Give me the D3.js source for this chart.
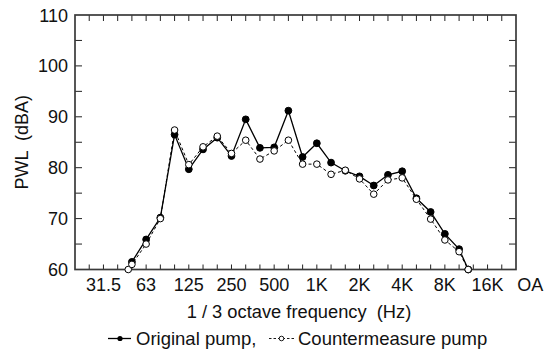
<!DOCTYPE html>
<html>
<head>
<meta charset="utf-8">
<script src="https://cdn.jsdelivr.net/npm/d3@7"></script>
<style>
  body { margin: 0; background: #fff; }
  svg { display: block; font-family: "Liberation Sans", Arial, sans-serif; }
</style>
</head>
<body>
<svg id="chart" width="550" height="349"></svg>
<script>
// 1/3 octave bands shown on the x axis (one tick per band)
const bands = ["20","25","31.5","40","50","63","80","100","125","160","200","250","315","400","500",
  "630","800","1K","1.25K","1.6K","2K","2.5K","3.15K","4K","5K","6.3K","8K","10K","12.5K","16K","20K"];
const tickLabels = ["31.5","63","125","250","500","1K","2K","4K","8K","16K","OA"];

// PWL in dBA per band (null = not plotted)
const originalPump = [null,null,null,null,61.5,65.9,70.2,86.5,79.7,83.6,85.9,82.3,89.5,83.9,84.0,
  91.2,82.1,84.8,81.0,79.4,78.3,76.5,78.6,79.3,74.0,71.3,67.0,64.0,57.8,null,null];
const countermeasurePump = [null,null,null,57.1,61.0,65.0,70.0,87.4,80.6,84.1,86.2,82.8,85.4,81.7,83.3,
  85.4,80.7,80.7,78.7,79.5,77.8,74.8,77.6,78.0,73.8,69.9,65.8,63.5,58.0,null,null];

const yMajor = [60,70,80,90,100,110];
const yMinor = [65,75,85,95,105];

const svg = d3.select("#chart");
const pLeft = 75, pRight = 516, pTop = 15, pBottom = 269.5;

const x = d3.scaleLinear().domain([0, bands.length]).range([pLeft, pRight]);
const y = d3.scaleLinear().domain([60, 110]).range([pBottom, pTop]);

const labelPos = name => name === "OA" ? bands.length + 1 : bands.indexOf(name);

svg.append("clipPath").attr("id", "plotclip")
  .append("rect").attr("x", pLeft).attr("y", pTop).attr("width", pRight - pLeft).attr("height", pBottom - pTop);

// ticks (all inward)
const bandTicks = d3.range(1, bands.length);
const tickG = svg.append("g").attr("stroke", "#222").attr("stroke-width", 1);
tickG.selectAll(".bt").data(bandTicks).join("line")
  .attr("x1", d => x(d)).attr("x2", d => x(d))
  .attr("y1", pBottom).attr("y2", pBottom - 5);
tickG.selectAll(".tt").data(bandTicks).join("line")
  .attr("x1", d => x(d)).attr("x2", d => x(d))
  .attr("y1", pTop).attr("y2", pTop + 6);
const yTicks = yMajor.concat(yMinor).filter(v => v > 60 && v < 110);
tickG.selectAll(".lt").data(yTicks).join("line")
  .attr("x1", pLeft).attr("x2", pLeft + 7)
  .attr("y1", d => y(d)).attr("y2", d => y(d));
tickG.selectAll(".rt").data(yTicks).join("line")
  .attr("x1", pRight).attr("x2", pRight - 7)
  .attr("y1", d => y(d)).attr("y2", d => y(d));

// frame
svg.append("rect")
  .attr("x", pLeft).attr("y", pTop).attr("width", pRight - pLeft).attr("height", pBottom - pTop)
  .attr("fill", "none").attr("stroke", "#3a3a3a").attr("stroke-width", 1.7);

// labels
svg.append("g").selectAll("text").data(yMajor).join("text")
  .attr("x", 68).attr("y", d => y(d) + 6.5)
  .attr("text-anchor", "end").attr("font-size", 18).attr("fill", "#111")
  .text(d => d);

svg.append("g").selectAll("text").data(tickLabels).join("text")
  .attr("x", d => x(labelPos(d))).attr("y", 290.5)
  .attr("text-anchor", "middle").attr("font-size", 18).attr("fill", "#111")
  .text(d => d);

svg.append("text")
  .attr("x", 299).attr("y", 317.5).attr("text-anchor", "middle")
  .attr("font-size", 18.3).attr("fill", "#111")
  .attr("xml:space", "preserve")
  .text("1 / 3 octave frequency  (Hz)");

svg.append("text")
  .attr("transform", "translate(28," + y(85) + ") rotate(-90)")
  .attr("text-anchor", "middle").attr("font-size", 18).attr("fill", "#111")
  .attr("xml:space", "preserve")
  .text("PWL  (dBA)");

// series
function seriesPoints(values) {
  const pts = [];
  values.forEach((v, i) => {
    if (v == null) return;
    pts.push({i: i, v: v});
  });
  return pts;
}

// marker position: values below the floor sit where the line meets the axis
function markerPos(values, p) {
  if (p.v >= 60) return {x: x(p.i), y: y(p.v)};
  const j = values[p.i - 1] != null && values[p.i - 1] >= 60 ? p.i - 1 : p.i + 1;
  const t = (60 - values[j]) / (p.v - values[j]);
  return {x: x(j + t * (p.i - j)), y: y(60)};
}

const line = d3.line().x(d => x(d.i)).y(d => y(d.v));

const series = [
  {values: originalPump, dash: null, width: 1.3, fill: "#000", r: 3.4},
  {values: countermeasurePump, dash: "3,2.5", width: 1, fill: "#fff", r: 3.3}
];

series.forEach(s => {
  const pts = seriesPoints(s.values);
  svg.append("path")
    .datum(pts)
    .attr("clip-path", "url(#plotclip)")
    .attr("d", line)
    .attr("fill", "none").attr("stroke", "#000")
    .attr("stroke-width", s.width)
    .attr("stroke-dasharray", s.dash);
});

series.forEach(s => {
  const pts = seriesPoints(s.values).map(p => markerPos(s.values, p));
  svg.append("g").selectAll("circle").data(pts).join("circle")
    .attr("cx", d => d.x).attr("cy", d => d.y).attr("r", s.r)
    .attr("fill", s.fill).attr("stroke", "#000").attr("stroke-width", 1);
});

// legend
const leg = svg.append("g").attr("font-size", 18.5).attr("fill", "#111");
const ly = 338.5;
leg.append("line").attr("x1", 108).attr("x2", 131).attr("y1", ly).attr("y2", ly)
  .attr("stroke", "#000").attr("stroke-width", 1.3);
leg.append("circle").attr("cx", 120).attr("cy", ly).attr("r", 2.6).attr("fill", "#000");
leg.append("text").attr("x", 136).attr("y", ly + 6.5).text("Original pump,");
leg.append("line").attr("x1", 269).attr("x2", 294).attr("y1", ly).attr("y2", ly)
  .attr("stroke", "#000").attr("stroke-width", 0.9).attr("stroke-dasharray", "2.5,2");
leg.append("circle").attr("cx", 281.5).attr("cy", ly).attr("r", 2.3)
  .attr("fill", "#fff").attr("stroke", "#000").attr("stroke-width", 0.9);
leg.append("text").attr("x", 298).attr("y", ly + 6.5).text("Countermeasure pump");
</script>
</body>
</html>
